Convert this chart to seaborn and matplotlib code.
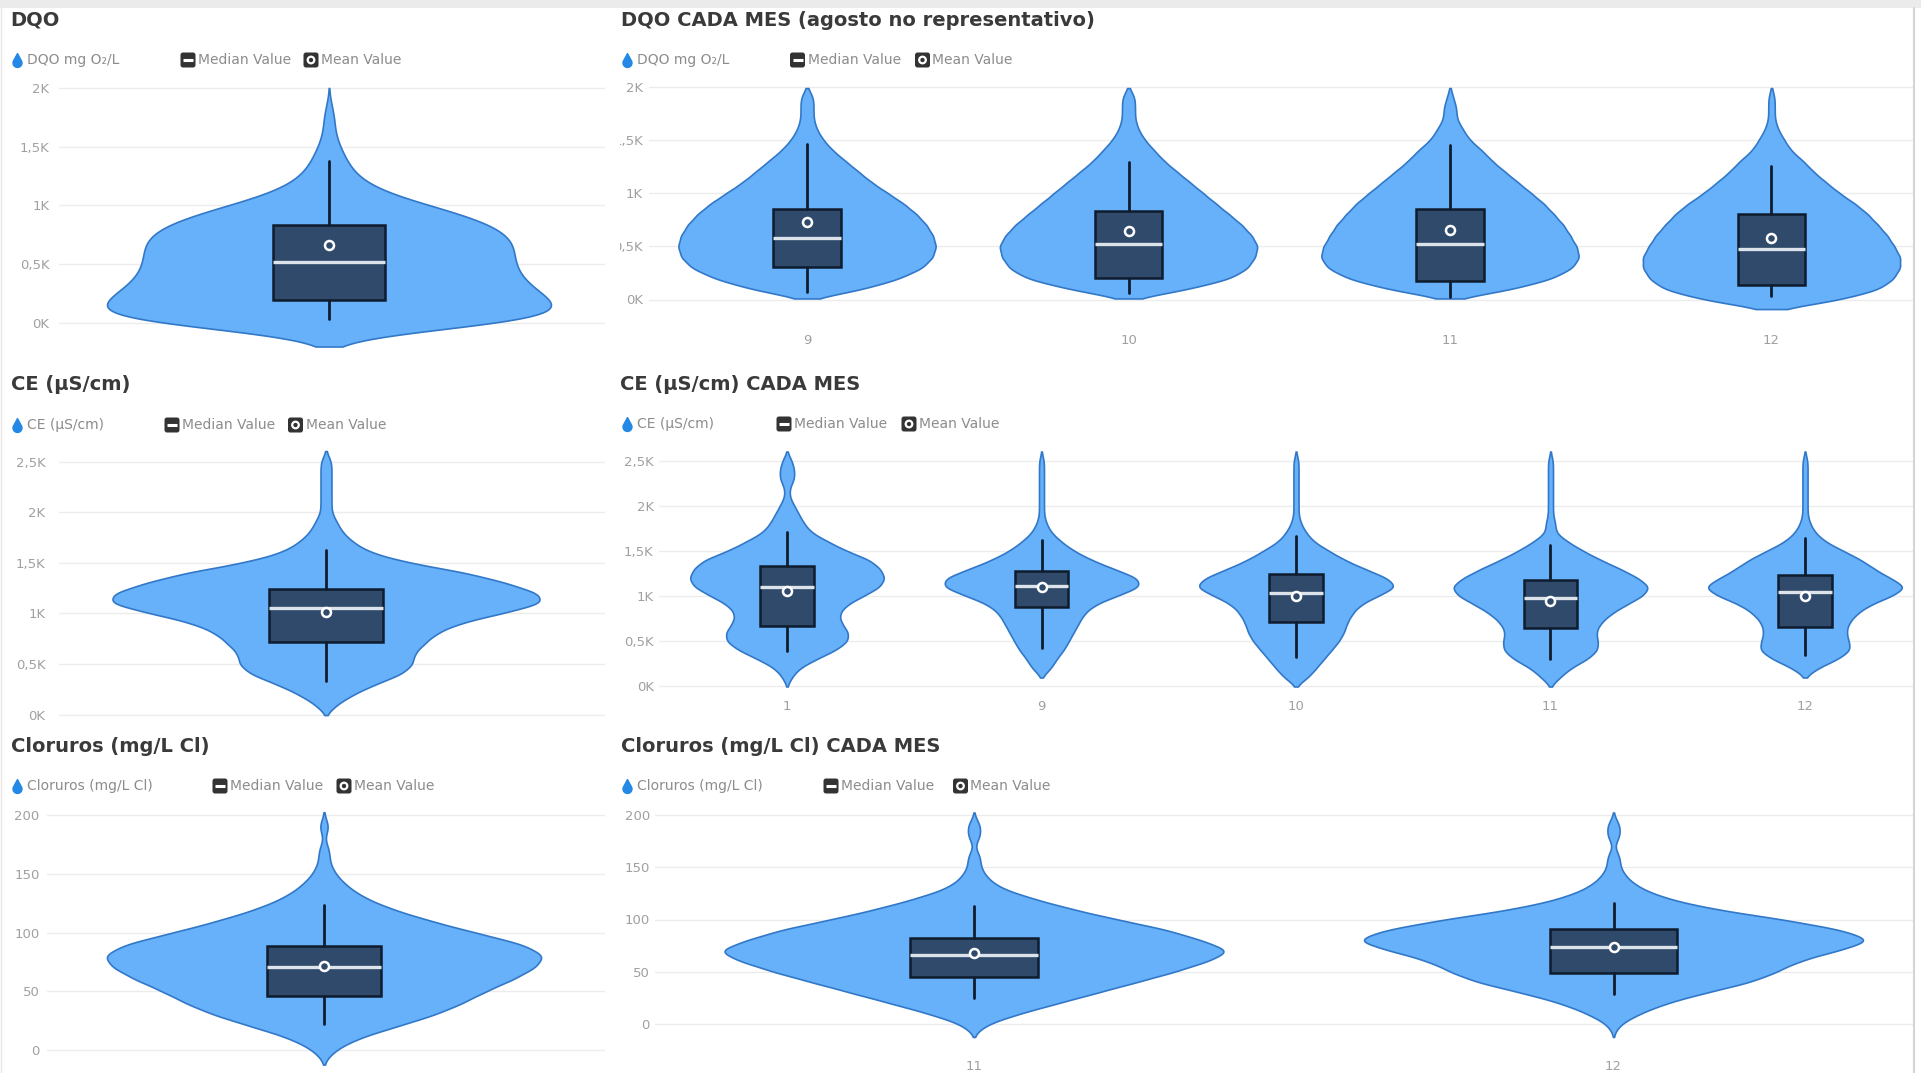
import numpy as np
import pandas as pd
import matplotlib
matplotlib.use("Agg")
import matplotlib.pyplot as plt
from matplotlib.patches import Rectangle, FancyBboxPatch, Circle
from matplotlib.path import Path
import seaborn as sns

sns.set_theme(style="white")
plt.rcParams["font.family"] = ["DejaVu Sans"]

# ---------------------------------------------------------------------------
# Data: each group is stored as the number of samples found at each level
# ---------------------------------------------------------------------------
# DQO (mg O2/L), levels every 100 mg/L
dqo_levels = [0, 100, 200, 300, 400, 500, 600, 700, 800, 900, 1000,
              1100, 1200, 1300, 1400, 1500, 1600, 1700, 1800, 1900, 2000]
dqo_total = [41, 42, 40, 36, 34, 33, 33, 33, 31, 26, 18, 10, 6, 4, 3, 2, 1, 1, 1, 0, 0]
dqo_months = ["9", "10", "11", "12"]
dqo_mes_9 = [0, 18, 29, 36, 39, 40, 39, 37, 34, 30, 25, 20, 16, 12, 8, 5, 3, 2, 2, 2, 0]
dqo_mes_10 = [0, 19, 32, 37, 39, 40, 38, 35, 31, 27, 23, 19, 15, 11, 8, 5, 3, 2, 2, 2, 0]
dqo_mes_11 = [0, 20, 32, 38, 40, 39, 37, 35, 32, 29, 25, 21, 17, 13, 10, 6, 4, 2, 2, 1, 0]
dqo_mes_12 = [22, 34, 38, 40, 40, 38, 36, 33, 30, 26, 21, 17, 13, 10, 6, 4, 2, 1, 1, 1, 0]

# CE (uS/cm), levels every 100 uS/cm
ce_levels = [0, 100, 200, 300, 400, 500, 600, 700, 800, 900, 1000, 1100, 1200, 1300,
             1400, 1500, 1600, 1700, 1800, 1900, 2000, 2100, 2200, 2300, 2400, 2500, 2600]
ce_total = [0, 2, 5, 9, 14, 16, 16, 18, 20, 24, 32, 40, 39, 33, 26, 15, 8, 5, 3, 2, 1, 1, 1, 1, 1, 1, 0]
ce_months = ["1", "9", "10", "11", "12"]
ce_mes_1 = [0, 2, 5, 12, 20, 25, 25, 22, 21, 24, 31, 38, 40, 38, 34, 24, 17, 10, 7, 5, 3, 1, 1, 3, 3, 2, 0]
ce_mes_9 = [0, 0, 4, 6, 9, 11, 13, 15, 17, 21, 30, 40, 39, 29, 20, 13, 8, 4, 2, 1, 1, 1, 1, 1, 1, 1, 0]
ce_mes_10 = [0, 5, 8, 11, 14, 17, 19, 20, 22, 25, 32, 40, 36, 27, 19, 13, 7, 4, 2, 1, 1, 1, 1, 1, 1, 1, 0]
ce_mes_11 = [0, 4, 8, 15, 19, 19, 18, 20, 24, 30, 37, 40, 35, 28, 20, 13, 7, 2, 2, 1, 1, 1, 1, 1, 1, 1, 0]
ce_mes_12 = [0, 0, 5, 13, 18, 17, 16, 17, 20, 25, 34, 40, 33, 27, 22, 15, 8, 4, 2, 1, 1, 1, 1, 1, 1, 1, 0]

# Cloruros (mg/L Cl), levels every 10 mg/L
cl_levels = [0, 10, 20, 30, 40, 50, 60, 70, 80, 90, 100,
             110, 120, 130, 140, 150, 160, 170, 180, 190, 200]
cl_total = [2, 6, 13, 20, 25, 29, 34, 38, 40, 36, 27, 19, 12, 7, 4, 2, 1, 1, 0, 1, 0]
cl_months = ["11", "12"]
cl_mes_11 = [2, 7, 13, 19, 25, 31, 36, 40, 35, 30, 22, 15, 9, 4, 2, 1, 1, 0, 1, 1, 0]
cl_mes_12 = [1, 4, 8, 14, 21, 25, 28, 34, 40, 35, 26, 15, 8, 4, 2, 1, 1, 0, 1, 1, 0]

# Box summaries: [lower whisker, Q1, median, Q3, upper whisker, mean]
dqo_total_box = [30, 196, 520, 834, 1380, 660]
dqo_mes_box = [[70, 310, 580, 850, 1465, 725],
               [57, 198, 519, 836, 1290, 645],
               [25, 173, 519, 849, 1456, 654],
               [31, 135, 475, 802, 1260, 582]]
ce_total_box = [330, 720, 1050, 1240, 1630, 1010]
ce_mes_box = [[385, 665, 1095, 1328, 1715, 1055],
              [420, 880, 1110, 1280, 1620, 1100],
              [320, 715, 1035, 1250, 1665, 1000],
              [300, 650, 980, 1180, 1570, 950],
              [340, 660, 1050, 1230, 1640, 1000]]
cl_total_box = [22, 46, 71, 88.5, 123, 71.5]
cl_mes_box = [[25, 45, 66, 82, 113, 67.5],
              [29, 48.5, 73.5, 90.5, 115.5, 73.5]]

# Axis ticks
dqo_ticks = [0, 500, 1000, 1500, 2000]
dqo_tick_labels = ["0K", "0,5K", "1K", "1,5K", "2K"]
ce_ticks = [0, 500, 1000, 1500, 2000, 2500]
ce_tick_labels = ["0K", "0,5K", "1K", "1,5K", "2K", "2,5K"]
cl_ticks = [0, 50, 100, 150, 200]
cl_tick_labels = ["0", "50", "100", "150", "200"]

# Texts
titles = ["DQO", "DQO CADA MES (agosto no representativo)",
          "CE (\u00b5S/cm)", "CE (\u00b5S/cm) CADA MES",
          "Cloruros (mg/L Cl)", "Cloruros (mg/L Cl) CADA MES"]
series_names = ["DQO mg O\u2082/L", "CE (\u00b5S/cm)", "Cloruros (mg/L Cl)"]
median_label = "Median Value"
mean_label = "Mean Value"

# ---------------------------------------------------------------------------
# Style
# ---------------------------------------------------------------------------
VIOLIN_FILL = "#67b1fa"
VIOLIN_EDGE = "#3278c8"
BOX_FACE = "#2f4a6b"
BOX_EDGE = "#0f1c2e"
MEDIAN_C = "#dde3ea"
GRID_C = "#ececec"
TICK_C = "#a0a0a0"
TITLE_C = "#3a3a3a"
LEGEND_C = "#8c8c8c"
ICON_C = "#333333"
DROP_C = "#2388e6"

W, H = 1921, 1073
fig = plt.figure(figsize=(W / 100, H / 100), dpi=100)
fig.patch.set_facecolor("white")


def add_px_axes(x0, y0, x1, y1):
    return fig.add_axes([x0 / W, 1 - y1 / H, (x1 - x0) / W, (y1 - y0) / H])


def panel(rect, ymap, center0, spacing, levels, groups, counts, boxes, bw, cut,
          vwidth, bwidth, yticks, ylabels, ypad, xpad=None):
    x0, y0, x1, y1 = rect
    ax = add_px_axes(*rect)
    frames = [pd.DataFrame({"grupo": g, "valor": np.repeat(levels, c).astype(float)})
              for g, c in zip(groups, counts)]
    df = pd.concat(frames, ignore_index=True)
    sns.violinplot(data=df, x="grupo", y="valor", order=groups, ax=ax,
                   color=VIOLIN_FILL, linecolor=VIOLIN_EDGE, linewidth=1.2,
                   saturation=1, inner=None, density_norm="width", width=vwidth,
                   bw_method=lambda k: bw / np.std(k.dataset, ddof=1),
                   cut=cut, gridsize=400)
    stats = [dict(whislo=b[0], q1=b[1], med=b[2], q3=b[3], whishi=b[4], mean=b[5], fliers=[])
             for b in boxes]
    ax.bxp(stats, positions=list(range(len(groups))), widths=bwidth, patch_artist=True,
           showmeans=True, showcaps=False, showfliers=False, manage_ticks=False,
           boxprops=dict(facecolor=BOX_FACE, edgecolor=BOX_EDGE, linewidth=1.8),
           whiskerprops=dict(color=BOX_EDGE, linewidth=2.0),
           medianprops=dict(color=MEDIAN_C, linewidth=2.4, solid_capstyle="butt"),
           meanprops=dict(marker="o", markersize=6.5, markerfacecolor=BOX_FACE,
                          markeredgecolor="white", markeredgewidth=1.8))
    (ya, va), (yb, vb) = ymap
    s = (ya - yb) / (vb - va)
    ax.set_ylim(va - (y1 - ya) / s, va + (ya - y0) / s)
    ax.set_xlim((x0 - center0) / spacing, (x1 - center0) / spacing)
    ax.set_yticks(yticks)
    ax.set_yticklabels(ylabels)
    ax.tick_params(axis="y", length=0, pad=ypad, labelsize=9.5, labelcolor=TICK_C)
    ax.yaxis.grid(True, color=GRID_C, linewidth=1.0)
    ax.xaxis.grid(False)
    ax.set_axisbelow(True)
    for sp in ax.spines.values():
        sp.set_visible(False)
    ax.set_xlabel("")
    ax.set_ylabel("")
    ax.patch.set_alpha(0)
    if xpad is None:
        ax.set_xticks([])
    else:
        ax.set_xticks(list(range(len(groups))))
        ax.set_xticklabels(groups)
        ax.tick_params(axis="x", length=0, pad=xpad, labelsize=9.5, labelcolor=TICK_C)
    return ax


# DQO
panel((59, 70, 605, 356), ((323, 0), (88, 2000)), 329, 546, dqo_levels, ["DQO"], [dqo_total],
      [dqo_total_box], 100, 2, 0.813, 0.205, dqo_ticks, dqo_tick_labels, 6.9)
ax_dqo_m = panel((649, 70, 1913, 312), ((299.5, 0), (87, 2000)), 807, 321.5, dqo_levels, dqo_months,
                 [dqo_mes_9, dqo_mes_10, dqo_mes_11, dqo_mes_12], dqo_mes_box, 60, 1.5,
                 0.8, 0.21, dqo_ticks, dqo_tick_labels, 4.3, xpad=16)
# CE
panel((59, 440, 605, 722), ((714.5, 0), (461.7, 2500)), 326, 546, ce_levels, ["CE"], [ce_total],
      [ce_total_box], 62, 1.7, 0.782, 0.207, ce_ticks, ce_tick_labels, 9.7)
panel((659, 440, 1913, 692), ((686, 0), (461, 2500)), 787, 254.5, ce_levels, ce_months,
      [ce_mes_1, ce_mes_9, ce_mes_10, ce_mes_11, ce_mes_12], ce_mes_box, 62, 1.7,
      0.76, 0.21, ce_ticks, ce_tick_labels, 3.8, xpad=5.4)
# Cloruros
panel((47, 800, 605, 1073), ((1050, 0), (815, 200)), 324, 558, cl_levels, ["Cl"], [cl_total],
      [cl_total_box], 6.2, 2, 0.778, 0.206, cl_ticks, cl_tick_labels, 5.4)
panel((655, 800, 1913, 1048), ((1024, 0), (815, 200)), 974, 639.5, cl_levels, cl_months,
      [cl_mes_11, cl_mes_12], cl_mes_box, 6.2, 2, 0.78, 0.2, cl_ticks, cl_tick_labels, 3.6, xpad=8.4)

# ---------------------------------------------------------------------------
# Overlay in pixel coordinates: titles, legends, frame
# ---------------------------------------------------------------------------
ov = fig.add_axes([0, 0, 1, 1], zorder=10)
ov.set_xlim(0, W)
ov.set_ylim(H, 0)
ov.axis("off")

ov.add_patch(Rectangle((0, 0), W, 8, facecolor="#ebebeb", edgecolor="none"))
ov.plot([1914, 1914], [8, H], color="#d4d4d4", lw=1.5)
ov.plot([1, 1], [8, H], color="#e6e6e6", lw=1.0)

# the month panel's y labels are cut by the visual's left border
clip_box = Rectangle((620, 0), W, H, transform=ov.transData)
for lbl in ax_dqo_m.get_yticklabels():
    lbl.set_clip_on(True)
    lbl.set_clip_path(clip_box)

title_pos = [(10, 20), (621, 21), (11, 384), (620, 384), (11, 747), (621, 747)]
for t, (x, y) in zip(titles, title_pos):
    ov.text(x, y, t, ha="left", va="center", fontsize=14, fontweight="bold", color=TITLE_C)

theta = np.radians(np.linspace(150, 390, 40))
drop_v = np.vstack([[0, 2.1], np.column_stack([np.cos(theta), np.sin(theta)]), [0, 2.1]])
drop_v[:, 1] -= 0.55
drop_path = Path(drop_v, closed=True)


def legend_row(y, x_drop, name, x_med, x_mean):
    ov.plot([x_drop], [y], marker=drop_path, markersize=10, color=DROP_C, linestyle="none")
    ov.text(x_drop + 10, y, name, ha="left", va="center", fontsize=10, color=LEGEND_C)
    for xc in (x_med, x_mean):
        ov.add_patch(FancyBboxPatch((xc - 7.5, y - 7.5), 15, 15,
                                    boxstyle="round,pad=0,rounding_size=2.5",
                                    facecolor=ICON_C, edgecolor="none"))
    ov.plot([x_med - 5, x_med + 5], [y, y], color="white", lw=2.2, solid_capstyle="butt")
    ov.add_patch(Circle((x_mean, y), 3.3, facecolor=ICON_C, edgecolor="white", lw=1.6))
    ov.text(x_med + 10, y, median_label, ha="left", va="center", fontsize=10, color=LEGEND_C)
    ov.text(x_mean + 10, y, mean_label, ha="left", va="center", fontsize=10, color=LEGEND_C)


legend_row(60, 16.6, series_names[0], 188, 311)
legend_row(60, 627, series_names[0], 797.5, 922.5)
legend_row(425, 16.6, series_names[1], 172, 295.5)
legend_row(424, 627, series_names[1], 784, 909)
legend_row(786, 16.6, series_names[2], 220, 344)
legend_row(786, 627, series_names[2], 831, 960.5)

fig.savefig("out.png", dpi=100, facecolor="white")
